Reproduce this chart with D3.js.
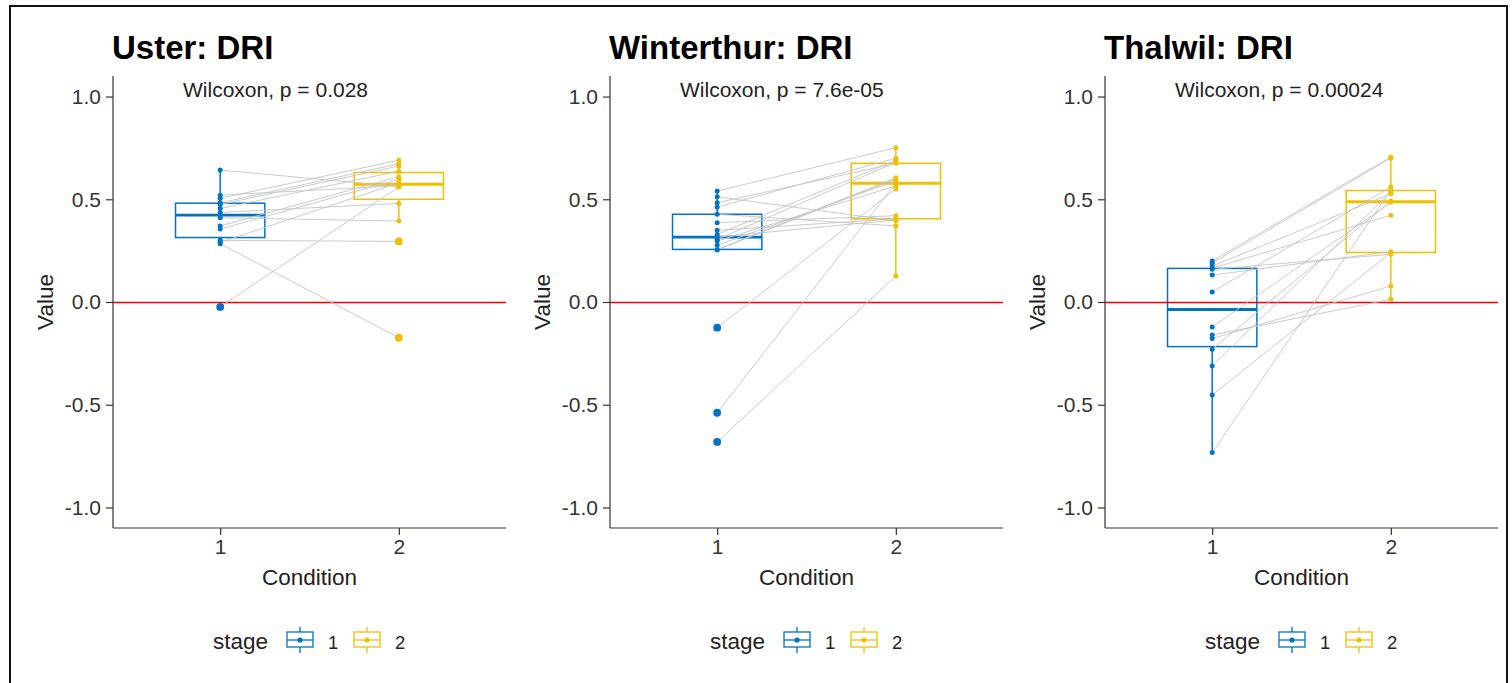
<!DOCTYPE html>
<html>
<head>
<meta charset="utf-8">
<script src="https://cdn.jsdelivr.net/npm/d3@7"></script>
<style>
  html, body { margin: 0; padding: 0; background: #fff; }
  svg { display: block; font-family: "Liberation Sans", Arial, sans-serif; }
  .tick text { font-size: 21px; fill: #333; }
  .tick line, .domain { stroke: #333; stroke-width: 1.2; }
</style>
</head>
<body>
<svg id="chart" width="1512" height="683"></svg>
<script>
// paired values, same subject at the same index in stage 1 and stage 2
const panelTitles = ["Uster: DRI", "Winterthur: DRI", "Thalwil: DRI"];
const pLabels = ["Wilcoxon, p = 0.028", "Wilcoxon, p = 7.6e-05", "Wilcoxon, p = 0.00024"];
const conditions = ["1", "2"];
const yTicks = [-1, -0.5, 0, 0.5, 1];

const usterStage1 = [-0.024, 0.284, 0.29, 0.30, 0.355, 0.37, 0.41, 0.436, 0.455, 0.475, 0.483, 0.505, 0.52, 0.642];
const usterStage2 = [0.56, -0.174, 0.58, 0.295, 0.597, 0.61, 0.394, 0.48, 0.637, 0.662, 0.673, 0.69, 0.566, 0.562];

const winterthurStage1 = [-0.681, -0.539, -0.125, 0.253, 0.256, 0.276, 0.297, 0.305, 0.316, 0.329, 0.349, 0.386, 0.427, 0.462, 0.483, 0.512, 0.54];
const winterthurStage2 = [0.127, 0.578, 0.55, 0.60, 0.605, 0.59, 0.565, 0.68, 0.40, 0.69, 0.405, 0.42, 0.37, 0.70, 0.675, 0.395, 0.751];

const thalwilStage1 = [-0.733, -0.453, -0.311, -0.23, -0.178, -0.161, -0.122, 0.049, 0.131, 0.159, 0.165, 0.175, 0.19, 0.20];
const thalwilStage2 = [0.545, 0.24, 0.535, 0.491, 0.078, 0.013, 0.485, 0.56, 0.245, 0.232, 0.422, 0.527, 0.70, 0.706];

(function drawPairedPanels() {
    const svg = d3.select("#chart");
    const stageColors = ["#0073C2", "#EFC000"];
    const panelLefts = [113, 610, 1105];
    const panelWidth = 393;
    const top = 76;
    const bottom = 528;

    const panels = [
        [usterStage1, usterStage2],
        [winterthurStage1, winterthurStage2],
        [thalwilStage1, thalwilStage2]
    ];

    // outer frame of the exported figure
    svg.append("rect")
        .attr("x", 10).attr("y", 6)
        .attr("width", 1497).attr("height", 690)
        .attr("fill", "none").attr("stroke", "#111").attr("stroke-width", 2);

    const y = d3.scaleLinear().domain([-1.1, 1.1]).range([bottom, top]);

    function boxStats(values) {
        const sorted = values.slice().sort(d3.ascending);
        const q1 = d3.quantile(sorted, 0.25);
        const med = d3.quantile(sorted, 0.5);
        const q3 = d3.quantile(sorted, 0.75);
        const iqr = q3 - q1;
        const inside = sorted.filter(v => v >= q1 - 1.5 * iqr && v <= q3 + 1.5 * iqr);
        return {
            q1, med, q3,
            lo: d3.min(inside),
            hi: d3.max(inside),
            outliers: sorted.filter(v => v < q1 - 1.5 * iqr || v > q3 + 1.5 * iqr)
        };
    }

    panels.forEach((stages, pi) => {
        const g = svg.append("g").attr("transform", `translate(${panelLefts[pi]},0)`);
        const x = d3.scalePoint().domain(conditions).range([0, panelWidth]).padding(0.6);
        const boxW = x.step() * 0.5;

        // title
        svg.append("text")
            .attr("x", panelLefts[pi] - 1)
            .attr("y", 59)
            .attr("font-size", 33)
            .attr("font-weight", "bold")
            .attr("fill", "#000")
            .text(panelTitles[pi]);

        // boxes
        stages.forEach((vals, si) => {
            const s = boxStats(vals);
            const cx = x(conditions[si]);
            const col = stageColors[si];
            const bg = g.append("g");
            bg.append("line")
                .attr("x1", cx).attr("x2", cx)
                .attr("y1", y(s.hi)).attr("y2", y(s.q3))
                .attr("stroke", col).attr("stroke-width", 1.5);
            bg.append("line")
                .attr("x1", cx).attr("x2", cx)
                .attr("y1", y(s.q1)).attr("y2", y(s.lo))
                .attr("stroke", col).attr("stroke-width", 1.5);
            bg.append("rect")
                .attr("x", cx - boxW / 2).attr("width", boxW)
                .attr("y", y(s.q3)).attr("height", y(s.q1) - y(s.q3))
                .attr("fill", "#fff").attr("stroke", col).attr("stroke-width", 1.5);
            bg.append("line")
                .attr("x1", cx - boxW / 2).attr("x2", cx + boxW / 2)
                .attr("y1", y(s.med)).attr("y2", y(s.med))
                .attr("stroke", col).attr("stroke-width", 2.8);
        });

        // zero reference line
        g.append("line")
            .attr("x1", 0).attr("x2", panelWidth)
            .attr("y1", Math.round(y(0)) + 0.5).attr("y2", Math.round(y(0)) + 0.5)
            .style("stroke", "#ff0000").style("stroke-width", "1.4px");

        // paired lines
        const pairs = d3.zip(stages[0], stages[1]);
        g.append("g").selectAll("line")
            .data(pairs)
            .join("line")
            .attr("x1", x("1")).attr("x2", x("2"))
            .attr("y1", d => y(d[0])).attr("y2", d => y(d[1]))
            .attr("stroke", "#c4c4c4").attr("stroke-width", 0.9);

        // points + boxplot outliers
        stages.forEach((vals, si) => {
            const cx = x(conditions[si]);
            const col = stageColors[si];
            g.append("g").selectAll("circle")
                .data(vals)
                .join("circle")
                .attr("cx", cx).attr("cy", d => y(d))
                .attr("r", 2.5).attr("fill", col);
            g.append("g").selectAll("circle")
                .data(boxStats(vals).outliers)
                .join("circle")
                .attr("cx", cx).attr("cy", d => y(d))
                .attr("r", 3.9).attr("fill", col);
        });

        // stat label
        g.append("text")
            .attr("x", 70)
            .attr("y", 97)
            .attr("font-size", 21)
            .attr("fill", "#222")
            .text(pLabels[pi]);

        // axes
        g.append("g")
            .call(d3.axisLeft(y).tickValues(yTicks).tickSize(7).tickSizeOuter(0).tickPadding(5)
                .tickFormat(d => d.toFixed(1)))
            .call(a => a.select(".domain").attr("d", `M0,${top}V${bottom}`));
        g.append("g")
            .attr("transform", `translate(0,${bottom})`)
            .call(d3.axisBottom(x).tickSize(7).tickSizeOuter(0).tickPadding(4))
            .call(a => a.select(".domain").attr("d", `M0,0H${panelWidth}`));

        g.append("text")
            .attr("transform", `translate(-68,${(top + bottom) / 2}) rotate(-90)`)
            .attr("text-anchor", "middle")
            .attr("dy", "0.35em")
            .attr("font-size", 22.5)
            .attr("fill", "#222")
            .text("Value");
        g.append("text")
            .attr("x", panelWidth / 2)
            .attr("y", 585)
            .attr("text-anchor", "middle")
            .attr("font-size", 22.5)
            .attr("fill", "#222")
            .text("Condition");

        // legend
        const lg = g.append("g").attr("transform", "translate(100,642)");
        lg.append("text")
            .attr("x", 0).attr("y", 7)
            .attr("font-size", 22.5).attr("fill", "#222")
            .text("stage");
        conditions.forEach((c, si) => {
            const kx = 174 + si * 67 - 100;
            const col = stageColors[si];
            const k = lg.append("g").attr("transform", `translate(${kx},0)`);
            k.append("line").attr("x1", 13).attr("x2", 13).attr("y1", -15).attr("y2", 11)
                .attr("stroke", col).attr("stroke-width", 1.3);
            k.append("rect").attr("x", 0).attr("y", -10).attr("width", 26).attr("height", 15)
                .attr("fill", "#fff").attr("stroke", col).attr("stroke-width", 1.3);
            k.append("line").attr("x1", 0).attr("x2", 26).attr("y1", -2).attr("y2", -2)
                .attr("stroke", col).attr("stroke-width", 1.3);
            k.append("circle").attr("cx", 13).attr("cy", -2).attr("r", 2.6).attr("fill", col);
            lg.append("text")
                .attr("x", kx + 41).attr("y", 7)
                .attr("font-size", 18.5).attr("fill", "#222")
                .text(c);
        });
    });
}());
</script>
</body>
</html>
